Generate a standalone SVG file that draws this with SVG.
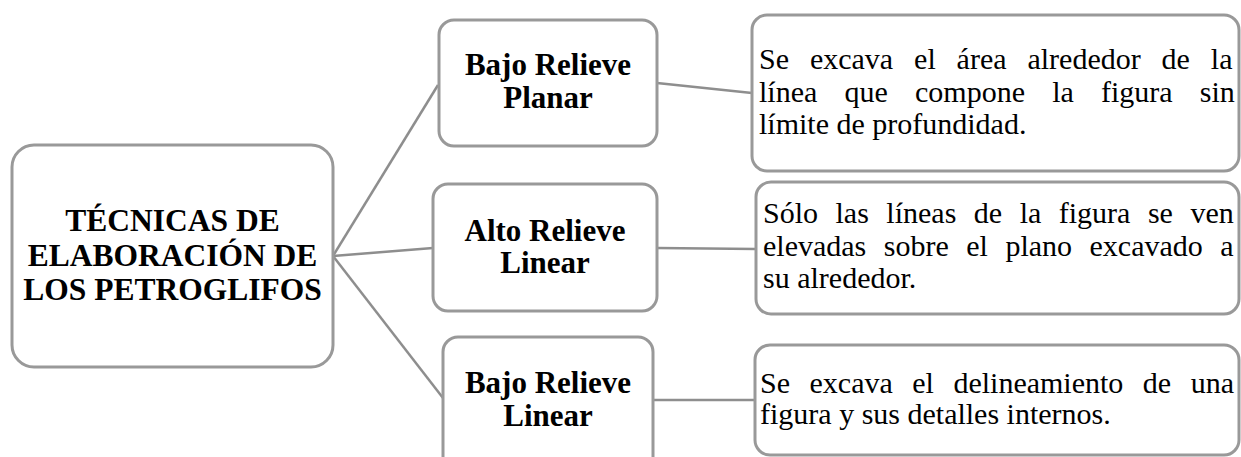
<svg xmlns="http://www.w3.org/2000/svg" width="1241" height="457" viewBox="0 0 1241 457">
<style>
.box{fill:#ffffff;stroke:#999999;stroke-width:3}
.con{stroke:#8e8e8e;stroke-width:2.5;fill:none}
.t{font-family:"Liberation Serif","Times New Roman",serif;fill:#000}
.b{font-weight:bold;text-anchor:middle}
.main{font-size:31.5px}
.lvl{font-size:31px}
.desc{font-size:30px}
</style>
<rect width="1241" height="457" fill="#ffffff"/>
<g id="connectors">
<line class="con" x1="333" y1="256" x2="438" y2="85"/>
<line class="con" x1="333" y1="256" x2="433" y2="248"/>
<line class="con" x1="333" y1="256" x2="443" y2="398"/>
<line class="con" x1="657" y1="83" x2="752" y2="93"/>
<line class="con" x1="657" y1="248" x2="756" y2="249"/>
<line class="con" x1="653" y1="400" x2="755" y2="400"/>
</g>
<g id="main">
<rect class="box" x="12" y="145" width="321" height="222" rx="22"/>
<text class="t b main" x="172.5" y="231">TÉCNICAS DE</text>
<text class="t b main" x="172.5" y="265.5">ELABORACIÓN DE</text>
<text class="t b main" x="172.5" y="300">LOS PETROGLIFOS</text>
</g>
<g id="bajo-planar">
<rect class="box" x="439" y="20" width="218" height="126" rx="15"/>
<text class="t b lvl" x="548" y="75">Bajo Relieve</text>
<text class="t b lvl" x="548" y="108">Planar</text>
</g>
<g id="alto-linear">
<rect class="box" x="433" y="184" width="224" height="127" rx="15"/>
<text class="t b lvl" x="545" y="241">Alto Relieve</text>
<text class="t b lvl" x="545" y="273">Linear</text>
</g>
<g id="bajo-linear">
<rect class="box" x="443" y="337" width="210" height="135" rx="15"/>
<text class="t b lvl" x="548" y="393">Bajo Relieve</text>
<text class="t b lvl" x="548" y="426">Linear</text>
</g>
<g id="desc-planar">
<rect class="box" x="752" y="15" width="487" height="156" rx="15"/>
<text class="t desc" x="759" y="69" word-spacing="13.4">Se excava el área alrededor de la</text>
<text class="t desc" x="759" y="101.5" word-spacing="19.7">línea que compone la figura sin</text>
<text class="t desc" x="759" y="134">límite de profundidad.</text>
</g>
<g id="desc-alto">
<rect class="box" x="756" y="182" width="483" height="132" rx="15"/>
<text class="t desc" x="763" y="223" word-spacing="10">Sólo las líneas de la figura se ven</text>
<text class="t desc" x="763" y="255.5" word-spacing="10">elevadas sobre el plano excavado a</text>
<text class="t desc" x="763" y="288">su alrededor.</text>
</g>
<g id="desc-bajo">
<rect class="box" x="755" y="345" width="484" height="110" rx="15"/>
<text class="t desc" x="760" y="393" word-spacing="12">Se excava el delineamiento de una</text>
<text class="t desc" x="760" y="424">figura y sus detalles internos.</text>
</g>
</svg>
